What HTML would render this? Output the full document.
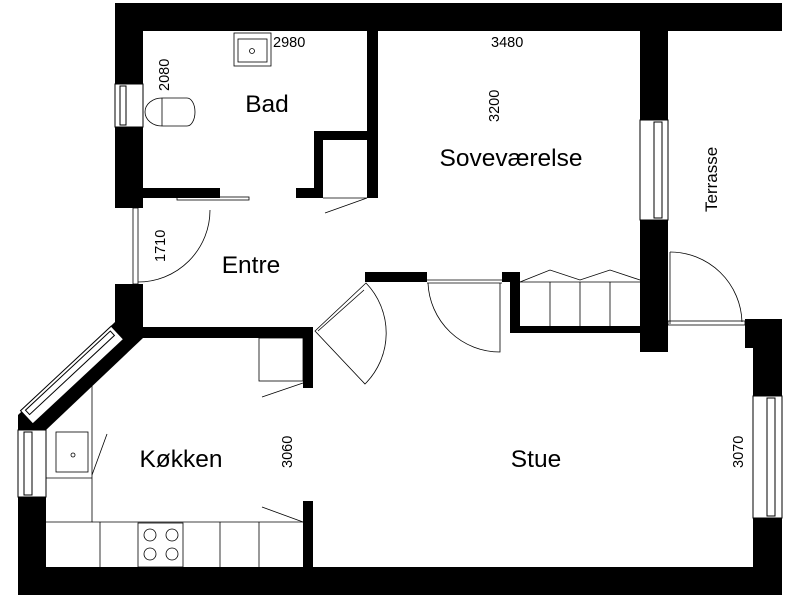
<!DOCTYPE html>
<html><head><style>body{margin:0;background:#fff}svg{display:block}text{font-family:"Liberation Sans",sans-serif;fill:#000}</style></head>
<body>
<svg width="800" height="595" viewBox="0 0 800 595" xmlns="http://www.w3.org/2000/svg">
<g fill="#000">
<rect x="115" y="3" width="667" height="28"/>
<rect x="115" y="3" width="28" height="81"/>
<rect x="115" y="127" width="28" height="81"/>
<rect x="143" y="188" width="77" height="10"/>
<rect x="367" y="31" width="11" height="167"/>
<rect x="314" y="131" width="53" height="9"/>
<rect x="314" y="131" width="9" height="67"/>
<rect x="296" y="188" width="27" height="10"/>
<rect x="115" y="284" width="28" height="54"/>
<rect x="115" y="327" width="198" height="11"/>
<rect x="303" y="327" width="10" height="61"/>
<rect x="303" y="501" width="10" height="66"/>
<rect x="18" y="567" width="764" height="28"/>
<rect x="18" y="497" width="28" height="70"/>
<polygon points="115,322 143,322 143,338 46,430 18,430 18,415"/>
<rect x="640" y="31" width="28" height="89"/>
<rect x="640" y="220" width="28" height="132"/>
<rect x="745" y="319" width="37" height="29"/>
<rect x="753" y="319" width="29" height="77"/>
<rect x="753" y="518" width="29" height="49"/>
<rect x="365" y="272" width="62" height="10"/>
<rect x="502" y="272" width="18" height="10"/>
<rect x="510" y="272" width="10" height="61"/>
<rect x="510" y="326" width="130" height="7"/>
</g>
<g fill="#fff" stroke="#000" stroke-width="1">
<rect x="115" y="84" width="28" height="43"/>
<rect x="120" y="86" width="6" height="39"/>
<rect x="640" y="120" width="28" height="100"/>
<rect x="654" y="122" width="8" height="96"/>
<rect x="753" y="396" width="29" height="122"/>
<rect x="767" y="398" width="8" height="118"/>
<rect x="18" y="430" width="28" height="67"/>
<rect x="24" y="432" width="8" height="63"/>
<g transform="translate(72,375) rotate(-43)"><rect x="-62" y="-9" width="124" height="18"/><rect x="-58" y="-6" width="116" height="6"/></g>
</g>
<g fill="none" stroke="#000" stroke-width="0.8">
<rect x="234" y="33" width="37" height="33"/>
<rect x="238" y="39" width="29" height="23"/>
<circle cx="252" cy="51" r="2.5"/>
<path d="M162,98 h25 a8,14 0 0 1 0,28 h-25 a17,14 0 0 1 0,-28z"/>
<line x1="162" y1="98" x2="162" y2="126"/>
<rect x="177" y="197" width="72" height="3"/>
<line x1="325" y1="213" x2="367" y2="198"/>
<line x1="323" y1="198" x2="367" y2="198"/>
<rect x="133" y="208" width="5" height="76"/>
<path d="M138,282 A72,72 0 0 0 210,210"/>
<line x1="427" y1="280" x2="502" y2="280"/><line x1="427" y1="283" x2="502" y2="283"/>
<path d="M428,283 A72,72 0 0 0 500,352 L500,283"/>
<path d="M315,331 L366,283 A72,72 0 0 1 365,384 Z"/>
<line x1="318" y1="331" x2="364" y2="290"/>
<path d="M520,282 L550,270 L580,280 L610,270 L640,280"/>
<line x1="520" y1="282" x2="640" y2="282"/>
<line x1="550" y1="282" x2="550" y2="326"/><line x1="580" y1="282" x2="580" y2="326"/><line x1="610" y1="282" x2="610" y2="326"/>
<path d="M670,252 A72,72 0 0 1 742,322"/>
<line x1="670" y1="252" x2="670" y2="324"/>
<rect x="668" y="321" width="77" height="4"/>
<polyline points="92,385 92,522 46,522"/>
<rect x="56" y="432" width="32" height="40"/>
<circle cx="73" cy="455" r="2"/>
<line x1="46" y1="478" x2="92" y2="478"/>
<line x1="92" y1="522" x2="303" y2="522"/>
<line x1="100" y1="522" x2="100" y2="567"/>
<rect x="138" y="523" width="45" height="44"/>
<circle cx="150" cy="535" r="6"/><circle cx="172" cy="535" r="6"/><circle cx="150" cy="554" r="6"/><circle cx="172" cy="554" r="6"/>
<line x1="220" y1="522" x2="220" y2="567"/><line x1="259" y1="522" x2="259" y2="567"/>
<rect x="259" y="338" width="44" height="43"/>
<line x1="262" y1="397" x2="303" y2="383"/>
<line x1="262" y1="507" x2="303" y2="522"/>
<line x1="92" y1="475" x2="107" y2="434"/>
</g>
<g font-size="24.5">
<text x="267" y="112" text-anchor="middle">Bad</text>
<text x="511" y="166" text-anchor="middle">Soveværelse</text>
<text x="251" y="273" text-anchor="middle">Entre</text>
<text x="181" y="467" text-anchor="middle">Køkken</text>
<text x="536" y="467" text-anchor="middle">Stue</text>
</g>
<g font-size="14.5">
<text x="273" y="47">2980</text>
<text x="491" y="47">3480</text>
<text transform="translate(169,91) rotate(-90)">2080</text>
<text transform="translate(499,122) rotate(-90)">3200</text>
<text transform="translate(165,262) rotate(-90)">1710</text>
<text transform="translate(292,468) rotate(-90)">3060</text>
<text transform="translate(743,468) rotate(-90)">3070</text>
<text font-size="17" transform="translate(717,212) rotate(-90)">Terrasse</text>
</g>
</svg>
</body></html>
